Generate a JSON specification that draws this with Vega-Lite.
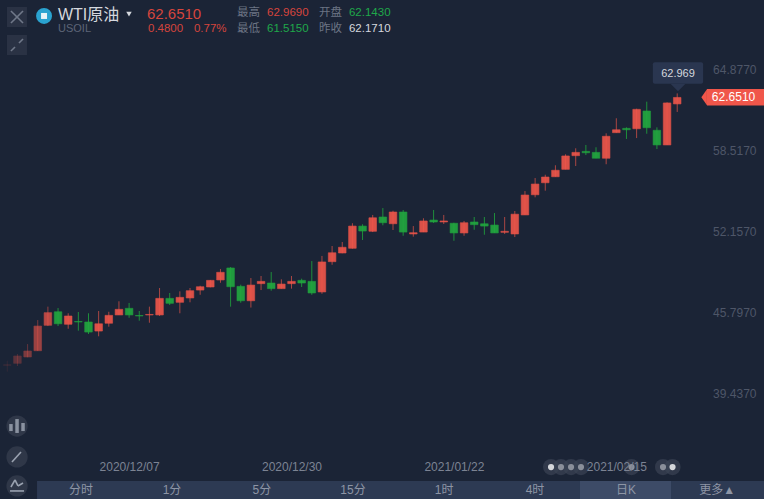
{"$schema":"https://vega.github.io/schema/vega-lite/v6.json","width":764,"height":499,"padding":0,"autosize":{"type":"none"},"background":"#1b2436","config":{"view":{"stroke":null},"text":{"font":"Liberation Sans, Noto Sans CJK SC"},"axis":{"labelFont":"Liberation Sans"}},
"datasets":{"candles":[
{"day":0,"open":41.68,"high":42.04,"low":41.18,"close":41.72},
{"day":1,"open":41.83,"high":42.56,"low":41.62,"close":42.41},
{"day":2,"open":42.33,"high":43.34,"low":42.30,"close":42.80},
{"day":3,"open":42.82,"high":45.22,"low":42.80,"close":44.75},
{"day":4,"open":44.81,"high":46.27,"low":44.75,"close":45.80},
{"day":5,"open":45.87,"high":46.16,"low":44.75,"close":44.93},
{"day":6,"open":44.89,"high":45.75,"low":44.54,"close":45.54},
{"day":7,"open":45.11,"high":45.85,"low":44.39,"close":45.07},
{"day":8,"open":45.07,"high":45.75,"low":44.13,"close":44.28},
{"day":9,"open":44.36,"high":45.93,"low":43.95,"close":44.93},
{"day":10,"open":44.97,"high":45.87,"low":44.70,"close":45.59},
{"day":11,"open":45.62,"high":46.69,"low":45.62,"close":46.06},
{"day":12,"open":46.14,"high":46.56,"low":45.40,"close":45.62},
{"day":13,"open":45.58,"high":45.93,"low":45.17,"close":45.54},
{"day":14,"open":45.62,"high":46.27,"low":45.01,"close":45.66},
{"day":15,"open":45.62,"high":47.73,"low":45.54,"close":46.92},
{"day":16,"open":46.92,"high":47.34,"low":46.40,"close":46.53},
{"day":17,"open":46.61,"high":47.47,"low":45.75,"close":47.00},
{"day":18,"open":46.95,"high":47.73,"low":46.61,"close":47.52},
{"day":19,"open":47.57,"high":47.91,"low":47.20,"close":47.83},
{"day":20,"open":47.81,"high":48.36,"low":47.78,"close":48.33},
{"day":21,"open":48.36,"high":49.22,"low":48.14,"close":48.96},
{"day":22,"open":49.30,"high":49.37,"low":46.27,"close":47.83},
{"day":23,"open":47.86,"high":47.99,"low":46.58,"close":46.73},
{"day":24,"open":46.73,"high":48.51,"low":46.20,"close":47.96},
{"day":25,"open":48.07,"high":48.67,"low":47.57,"close":48.25},
{"day":26,"open":48.12,"high":48.98,"low":47.52,"close":47.68},
{"day":27,"open":47.68,"high":48.41,"low":47.68,"close":48.04},
{"day":28,"open":48.07,"high":48.67,"low":47.68,"close":48.25},
{"day":29,"open":48.33,"high":48.46,"low":47.81,"close":48.12},
{"day":30,"open":48.25,"high":49.84,"low":47.20,"close":47.34},
{"day":31,"open":47.42,"high":50.24,"low":47.28,"close":49.77},
{"day":32,"open":49.79,"high":51.02,"low":49.55,"close":50.49},
{"day":33,"open":50.47,"high":51.33,"low":50.45,"close":50.92},
{"day":34,"open":50.84,"high":52.80,"low":50.81,"close":52.58},
{"day":35,"open":52.58,"high":52.72,"low":51.49,"close":52.19},
{"day":36,"open":52.17,"high":53.45,"low":52.11,"close":53.23},
{"day":37,"open":53.29,"high":53.99,"low":52.64,"close":52.84},
{"day":38,"open":52.76,"high":53.78,"low":52.27,"close":53.68},
{"day":39,"open":53.68,"high":53.84,"low":51.82,"close":52.11},
{"day":40,"open":51.96,"high":52.58,"low":51.75,"close":52.06},
{"day":41,"open":52.11,"high":53.19,"low":52.11,"close":52.98},
{"day":42,"open":53.05,"high":53.84,"low":52.82,"close":52.90},
{"day":43,"open":52.90,"high":53.45,"low":52.74,"close":52.98},
{"day":44,"open":52.80,"high":52.84,"low":51.43,"close":52.04},
{"day":45,"open":52.04,"high":52.98,"low":51.82,"close":52.84},
{"day":46,"open":52.90,"high":53.29,"low":52.29,"close":52.69},
{"day":47,"open":52.76,"high":53.29,"low":51.90,"close":52.58},
{"day":48,"open":52.66,"high":53.60,"low":52.04,"close":52.04},
{"day":49,"open":52.09,"high":53.29,"low":51.96,"close":52.17},
{"day":50,"open":51.96,"high":53.76,"low":51.72,"close":53.51},
{"day":51,"open":53.45,"high":55.32,"low":53.45,"close":55.01},
{"day":52,"open":55.03,"high":56.34,"low":54.83,"close":55.87},
{"day":53,"open":55.97,"high":56.60,"low":55.35,"close":56.42},
{"day":54,"open":56.44,"high":57.34,"low":56.44,"close":56.95},
{"day":55,"open":57.02,"high":58.20,"low":57.02,"close":58.07},
{"day":56,"open":58.09,"high":58.67,"low":57.28,"close":58.35},
{"day":57,"open":58.43,"high":58.93,"low":58.14,"close":58.32},
{"day":58,"open":58.35,"high":58.75,"low":57.89,"close":57.89},
{"day":59,"open":57.89,"high":59.84,"low":57.42,"close":59.61},
{"day":60,"open":59.89,"high":61.02,"low":59.89,"close":60.12},
{"day":61,"open":60.23,"high":60.31,"low":59.40,"close":60.12},
{"day":62,"open":60.20,"high":61.77,"low":59.47,"close":61.72},
{"day":63,"open":61.59,"high":62.32,"low":59.81,"close":60.28},
{"day":64,"open":60.08,"high":60.31,"low":58.61,"close":58.93},
{"day":65,"open":58.93,"high":62.27,"low":58.93,"close":62.22},
{"day":66,"open":62.143,"high":62.969,"low":61.515,"close":62.651}
]},
"encoding":{
"x":{"field":"day","type":"quantitative","title":null,"scale":{"domain":[-0.719,74.55],"nice":false,"zero":false,"padding":0},"axis":{"orient":"bottom","values":[12,28,44,60],"labelExpr":"{'12':'2020/12/07','28':'2020/12/30','44':'2021/01/22','60':'2021/02/15'}[datum.value]","grid":false,"domain":false,"ticks":false,"labelPadding":-38,"labelFontSize":12,"labelColor":"#7c8393","zindex":1,"labelOverlap":false,"labelFlush":false}},
"y":{"field":"price","type":"quantitative","title":null,"scale":{"domain":[31.21,70.28],"nice":false,"zero":false},"axis":{"orient":"right","offset":-8,"values":[39.437,45.797,52.157,58.517,64.877],"format":".4f","grid":false,"domain":false,"ticks":false,"labelAlign":"right","labelPadding":0,"labelFontSize":12,"labelColor":"#4e5668","labelOverlap":false,"labelFlush":false}}
},
"layer":[
{"data":{"values":[{"day":2.93,"day2":74.55,"price":32.62,"price2":31.21}]},"mark":{"type":"rect","color":"#2d3a53"},"encoding":{"x2":{"field":"day2"},"y2":{"field":"price2"}}},
{"data":{"values":[{"day":56.42,"day2":65.39,"price":32.62,"price2":31.21}]},"mark":{"type":"rect","color":"#3d4b67"},"encoding":{"x2":{"field":"day2"},"y2":{"field":"price2"}}},
{"data":{"values":[{"day":-0.03,"day2":1.94,"price":69.73,"price2":68.17},{"day":-0.03,"day2":1.94,"price":67.54,"price2":65.97}]},"mark":{"type":"rect","color":"#2a3244"},"encoding":{"x2":{"field":"day2"},"y2":{"field":"price2"}}},
{"data":{"values":[{"day":0.96,"price":36.92},{"day":0.96,"price":34.5},{"day":0.96,"price":32.23}]},"mark":{"type":"point","filled":true,"opacity":1,"size":452,"color":"#2f3748"}},
{"data":{"values":[{"day":53.57,"price":33.71},{"day":54.55,"price":33.71},{"day":55.54,"price":33.71},{"day":56.52,"price":33.71},{"day":61.5,"price":33.71},{"day":64.6,"price":33.71},{"day":65.54,"price":33.71}]},"mark":{"type":"point","filled":true,"opacity":0.7,"size":260,"color":"#3a4354"}},
{"data":{"values":[{"day":54.55,"price":33.71},{"day":55.54,"price":33.71},{"day":56.52,"price":33.71},{"day":61.5,"price":33.71},{"day":64.6,"price":33.71}]},"mark":{"type":"point","filled":true,"opacity":1,"size":38,"color":"#8a8f9a"}},
{"data":{"values":[{"day":53.57,"price":33.71},{"day":65.54,"price":33.71}]},"mark":{"type":"point","filled":true,"opacity":1,"size":38,"color":"#d5d7db"}},
{"data":{"values":[{"day":0.36,"day2":1.55,"price":69.42,"price2":68.48},{"day":0.36,"day2":1.55,"price":68.48,"price2":69.42},{"day":0.36,"day2":0.76,"price":66.29,"price2":66.6},{"day":1.15,"day2":1.55,"price":66.91,"price2":67.23}]},"mark":{"type":"rule","color":"#707889","strokeWidth":1.6},"encoding":{"x2":{"field":"day2"},"y2":{"field":"price2"}}},
{"data":{"values":[{"day":0.46,"day2":1.35,"price":34.11,"price2":34.89},{"day":0.36,"day2":0.76,"price":32.15,"price2":32.7},{"day":0.76,"day2":1.05,"price":32.7,"price2":32.23},{"day":1.05,"day2":1.55,"price":32.23,"price2":32.46},{"day":0.27,"day2":1.65,"price":31.84,"price2":31.84}]},"mark":{"type":"rule","color":"#9aa2b0","strokeWidth":1.6},"encoding":{"x2":{"field":"day2"},"y2":{"field":"price2"}}},
{"data":{"values":[{"day":0.36,"day2":0.36,"price":36.53,"price2":37.08},{"day":0.96,"day2":0.96,"price":36.38,"price2":37.47},{"day":1.55,"day2":1.55,"price":36.53,"price2":37.16}]},"mark":{"type":"rule","color":"#8a92a0","strokeWidth":3.5},"encoding":{"x2":{"field":"day2"},"y2":{"field":"price2"}}},
{"data":{"name":"candles"},"mark":{"type":"rule","strokeWidth":1},"encoding":{"y":{"field":"low","type":"quantitative","title":null,"scale":{"domain":[31.21,70.28],"nice":false,"zero":false},"axis":{"orient":"right","offset":-8,"values":[39.437,45.797,52.157,58.517,64.877],"format":".4f","grid":false,"domain":false,"ticks":false,"labelAlign":"right","labelPadding":0,"labelFontSize":12,"labelColor":"#4e5668","labelOverlap":false,"labelFlush":false}},"y2":{"field":"high"},"color":{"condition":{"test":"datum.close >= datum.open","value":"#b84a45"},"value":"#1f9a3c"},"opacity":{"field":"day","type":"quantitative","scale":{"domain":[0,5],"range":[0.15,0.9],"clamp":true},"legend":null}}},
{"data":{"name":"candles"},"mark":{"type":"bar","size":7.6,"strokeWidth":0.6},"encoding":{"y":{"field":"open","type":"quantitative","title":null,"scale":{"domain":[31.21,70.28],"nice":false,"zero":false},"axis":{"orient":"right","offset":-8,"values":[39.437,45.797,52.157,58.517,64.877],"format":".4f","grid":false,"domain":false,"ticks":false,"labelAlign":"right","labelPadding":0,"labelFontSize":12,"labelColor":"#4e5668","labelOverlap":false,"labelFlush":false}},"y2":{"field":"close"},"color":{"condition":{"test":"datum.close >= datum.open","value":"#f0564a"},"value":"#22a83f"},"stroke":{"condition":{"test":"datum.close >= datum.open","value":"#f0564a"},"value":"#22a83f"},"opacity":{"field":"day","type":"quantitative","scale":{"domain":[0,5],"range":[0.2,1],"clamp":true},"legend":null}}},
{"data":{"values":[{"day":63.6,"day2":68.55,"price":65.4,"price2":63.73}]},"mark":{"type":"rect","color":"#2a3650","cornerRadius":2},"encoding":{"x2":{"field":"day2"},"y2":{"field":"price2"}}},
{"data":{"values":[{"day":66.08,"price":63.73}]},"mark":{"type":"point","shape":"M -1 0 L 1 0 L 0 1 Z","filled":true,"opacity":1,"size":225,"color":"#2a3650"}},
{"data":{"values":[{"day":68.93,"price":62.66}]},"mark":{"type":"point","shape":"M -0.7 0 L 0 -1 L 0 1 Z","filled":true,"opacity":1,"size":256,"color":"#f0564a"}},
{"data":{"values":[{"day":68.93,"day2":74.55,"price":63.31,"price2":62.01}]},"mark":{"type":"rect","color":"#f0564a"},"encoding":{"x2":{"field":"day2"},"y2":{"field":"price2"}}},
{"data":{"values":[{"day":3.62,"price":69.03}]},"mark":{"type":"point","filled":true,"opacity":1,"size":254,"color":"#2aa3d0"}},
{"data":{"values":[{"day":3.62,"price":69.03}]},"mark":{"type":"point","shape":"square","filled":true,"opacity":1,"size":36,"color":"#e8f4f8"}},
{"data":{"values":[{"day":11.99,"price":69.18}]},"mark":{"type":"point","shape":"triangle-down","filled":true,"opacity":1,"size":30,"color":"#d5d8de"}},
{"data":{"values":[{"label":"WTI原油","day":4.995,"price":69.1}]},"mark":{"type":"text","align":"left","baseline":"middle","fontSize":16,"color":"#d5d8de"},"encoding":{"text":{"field":"label"}}},
{"data":{"values":[{"label":"USOIL","day":4.995,"price":68.0}]},"mark":{"type":"text","align":"left","baseline":"middle","fontSize":11,"color":"#5d6577"},"encoding":{"text":{"field":"label"}}},
{"data":{"values":[{"label":"62.6510","day":13.76,"price":69.18}]},"mark":{"type":"text","align":"left","baseline":"middle","fontSize":15,"color":"#d6453d"},"encoding":{"text":{"field":"label"}}},
{"data":{"values":[
{"label":"0.4800","day":13.86,"price":68.0,"tone":"up"},
{"label":"0.77%","day":18.39,"price":68.0,"tone":"up"},
{"label":"最高","day":22.63,"price":69.3,"tone":"muted"},
{"label":"62.9690","day":25.59,"price":69.3,"tone":"up"},
{"label":"开盘","day":30.71,"price":69.3,"tone":"muted"},
{"label":"62.1430","day":33.66,"price":69.3,"tone":"down"},
{"label":"最低","day":22.63,"price":68.0,"tone":"muted"},
{"label":"61.5150","day":25.59,"price":68.0,"tone":"down"},
{"label":"昨收","day":30.71,"price":68.0,"tone":"muted"},
{"label":"62.1710","day":33.66,"price":68.0,"tone":"bright"}
]},"mark":{"type":"text","align":"left","baseline":"middle","fontSize":11.5},"encoding":{"text":{"field":"label"},"color":{"field":"tone","type":"nominal","legend":null,"scale":{"domain":["up","down","muted","bright"],"range":["#d6453d","#1fa84a","#6c7484","#d5d8de"]}}}},
{"data":{"values":[{"label":"分时","day":7.26,"price":31.91},{"label":"1分","day":16.23,"price":31.91},{"label":"5分","day":25.09,"price":31.91},{"label":"15分","day":34.06,"price":31.91},{"label":"1时","day":43.03,"price":31.91},{"label":"4时","day":51.99,"price":31.91},{"label":"日K","day":60.96,"price":31.91},{"label":"更多▲","day":69.93,"price":31.91}]},"mark":{"type":"text","align":"center","baseline":"middle","fontSize":12,"color":"#8d95a5"},"encoding":{"text":{"field":"label"}}},
{"data":{"values":[{"label":"62.969","day":66.08,"price":64.49}]},"mark":{"type":"text","align":"center","baseline":"middle","fontSize":11,"color":"#d5d8de"},"encoding":{"text":{"field":"label"}}},
{"data":{"values":[{"label":"62.6510","day":71.55,"price":62.651}]},"mark":{"type":"text","align":"center","baseline":"middle","fontSize":12,"color":"#ffffff"},"encoding":{"text":{"field":"label"}}}
]}
